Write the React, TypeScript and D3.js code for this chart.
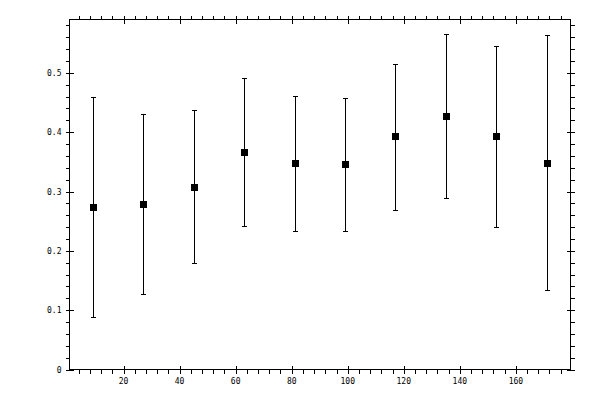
import * as d3 from "d3";

const WIDTH = 600;
const HEIGHT = 400;
const PLOT = { left: 69.5, right: 570.5, top: 19.5, bottom: 369.5 };

const xValues = [9, 27, 45, 63, 81, 99, 117, 135, 153, 171];
const meanValues = [0.2735, 0.2786, 0.307, 0.366, 0.348, 0.346, 0.392, 0.427, 0.393, 0.348];
const upperValues = [0.459, 0.43, 0.437, 0.491, 0.461, 0.457, 0.515, 0.565, 0.545, 0.564];
const lowerValues = [0.088, 0.127, 0.179, 0.2415, 0.233, 0.233, 0.2685, 0.289, 0.24, 0.134];

const xMajorTicks = [20, 40, 60, 80, 100, 120, 140, 160];
const yMajorTicks = [0, 0.1, 0.2, 0.3, 0.4, 0.5];
const yTickLabels = ["0", "0.1", "0.2", "0.3", "0.4", "0.5"];

const MINOR = 4;
const MAJOR = 4;
const MARKER = 7;
const CAP = 2.5;

export default function App() {
  const x = d3.scaleLinear().domain([0.7, 179.5]).range([PLOT.left, PLOT.right]);
  const y = d3.scaleLinear().domain([0, 0.59]).range([PLOT.bottom, PLOT.top]);

  const xMinor = d3.range(4, 180, 4).filter((v) => v % 20 !== 0);
  const yMinor = d3.range(0.02, 0.59, 0.02).filter((v) => Math.abs(v * 10 - Math.round(v * 10)) > 1e-6);

  const font = { fontFamily: "'DejaVu Sans Mono', monospace", fontSize: 8 };

  return (
    <svg
      width={WIDTH}
      height={HEIGHT}
      style={{ position: "absolute", left: 0, top: 0, background: "white" }}
      shapeRendering="crispEdges"
    >
      {/* frame */}
      <rect
        x={PLOT.left}
        y={PLOT.top}
        width={PLOT.right - PLOT.left}
        height={PLOT.bottom - PLOT.top}
        fill="none"
        stroke="black"
      />

      {/* x minor ticks, bottom and top, pointing outward */}
      {xMinor.map((v) => (
        <g key={"xm" + v}>
          <line x1={Math.round(x(v)) + 0.5} x2={Math.round(x(v)) + 0.5} y1={PLOT.bottom} y2={PLOT.bottom + MINOR} stroke="black" />
          <line x1={Math.round(x(v)) + 0.5} x2={Math.round(x(v)) + 0.5} y1={PLOT.top} y2={PLOT.top - MINOR} stroke="black" />
        </g>
      ))}

      {/* x major ticks cross the axis */}
      {xMajorTicks.map((v) => (
        <g key={"xM" + v}>
          <line x1={Math.round(x(v)) + 0.5} x2={Math.round(x(v)) + 0.5} y1={PLOT.bottom - MAJOR} y2={PLOT.bottom + MAJOR} stroke="black" />
          <line x1={Math.round(x(v)) + 0.5} x2={Math.round(x(v)) + 0.5} y1={PLOT.top - MAJOR} y2={PLOT.top + MAJOR} stroke="black" />
          <text x={x(v)} y={PLOT.bottom + 14} textAnchor="middle" {...font}>
            {v}
          </text>
        </g>
      ))}

      {/* y minor ticks */}
      {yMinor.map((v) => (
        <g key={"ym" + v}>
          <line x1={PLOT.left} x2={PLOT.left - MINOR} y1={Math.round(y(v)) + 0.5} y2={Math.round(y(v)) + 0.5} stroke="black" />
          <line x1={PLOT.right} x2={PLOT.right + MINOR} y1={Math.round(y(v)) + 0.5} y2={Math.round(y(v)) + 0.5} stroke="black" />
        </g>
      ))}

      {/* y major ticks */}
      {yMajorTicks.map((v, i) => (
        <g key={"yM" + v}>
          <line x1={PLOT.left - MAJOR} x2={PLOT.left + MAJOR} y1={Math.round(y(v)) + 0.5} y2={Math.round(y(v)) + 0.5} stroke="black" />
          <line x1={PLOT.right - MAJOR} x2={PLOT.right + MAJOR} y1={Math.round(y(v)) + 0.5} y2={Math.round(y(v)) + 0.5} stroke="black" />
          <text x={PLOT.left - 8} y={y(v) + 3} textAnchor="end" {...font}>
            {yTickLabels[i]}
          </text>
        </g>
      ))}

      {/* error bars */}
      {xValues.map((xv, i) => {
        const cx = Math.round(x(xv)) + 0.5;
        const yTop = Math.round(y(upperValues[i])) + 0.5;
        const yBot = Math.round(y(lowerValues[i])) + 0.5;
        return (
          <g key={"e" + i} stroke="black">
            <line x1={cx} x2={cx} y1={yTop} y2={yBot} />
            <line x1={cx - CAP} x2={cx + CAP} y1={yTop} y2={yTop} />
            <line x1={cx - CAP} x2={cx + CAP} y1={yBot} y2={yBot} />
          </g>
        );
      })}

      {/* markers */}
      {xValues.map((xv, i) => (
        <rect
          key={"m" + i}
          x={Math.round(x(xv)) + 0.5 - MARKER / 2}
          y={y(meanValues[i]) - MARKER / 2}
          width={MARKER}
          height={MARKER}
          fill="black"
        />
      ))}
    </svg>
  );
}
